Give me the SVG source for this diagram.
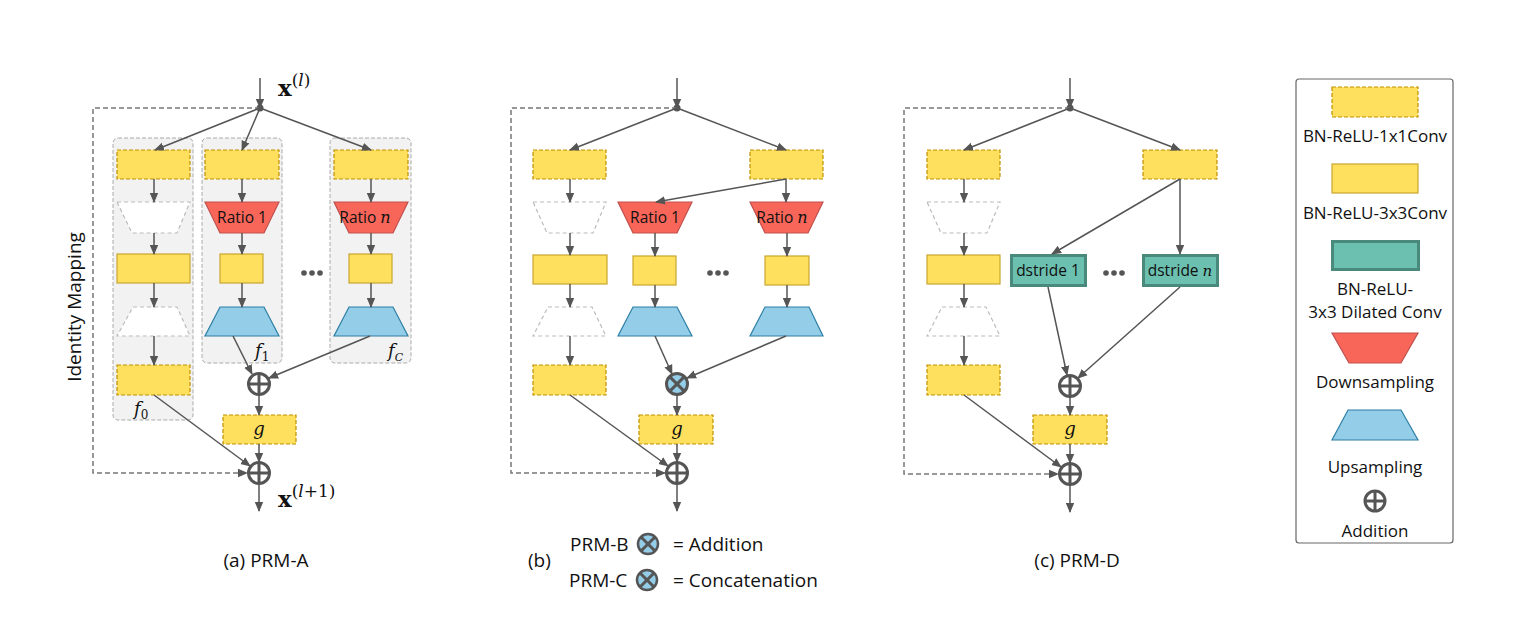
<svg xmlns="http://www.w3.org/2000/svg" width="1530" height="625" viewBox="0 0 1530 625">
  <defs>
    <marker id="arr" markerUnits="userSpaceOnUse" markerWidth="10" markerHeight="10" viewBox="0 0 10 10" refX="9" refY="5" orient="auto">
      <path d="M0,0.8 L10,5 L0,9.2 Z" fill="#555"/>
    </marker>
    <style>
      .conn { stroke:#555; stroke-width:1.5; fill:none; }
      .idm { stroke:#777; stroke-width:1.5; fill:none; stroke-dasharray:5 3; }
      .grp { fill:#F2F2F2; stroke:#AAA; stroke-width:1; stroke-dasharray:4 2; }
      .c1 { fill:#FFE05E; stroke:#BF9000; stroke-width:1.2; stroke-dasharray:4 2; }
      .c3 { fill:#FFE05E; stroke:#C9A530; stroke-width:1.2; }
      .ghost { fill:#FFF; stroke:#BBB; stroke-width:1.2; stroke-dasharray:4 3; }
      .down { fill:#F8665A; stroke:#C0504D; stroke-width:1.2; }
      .up { fill:#93CDE8; stroke:#2E7FA5; stroke-width:1.2; }
      .dil { fill:#6CC0B0; stroke:#4A8A7D; stroke-width:3; }
      .op { fill:#FFF; stroke:#555; stroke-width:3; }
      .opx { fill:#93CDE8; stroke:#555; stroke-width:3; }
      .opl { stroke:#555; stroke-width:3; }
      .txt { font-family:"Open Sans","Liberation Sans",sans-serif; fill:#111; }
      .lbl { font-family:"Open Sans","Liberation Sans",sans-serif; font-size:15.5px; fill:#111; text-anchor:middle; }
      .math { font-family:"DejaVu Serif","Liberation Serif",serif; font-style:italic; fill:#111; }
      .vec { font-family:"DejaVu Serif","Liberation Serif",serif; font-size:23px; font-weight:bold; fill:#111; }
      .sup { font-weight:normal; font-size:17px; }
      .dots { fill:#555; }
    </style>
  </defs>

  <!-- ===================== (a) PRM-A ===================== -->
  <g id="prmA">
    <g id="a-groups">
      <rect class="grp" x="113" y="138" width="80" height="282" rx="5"/>
      <rect class="grp" x="202" y="138" width="80" height="225" rx="5"/>
      <rect class="grp" x="330" y="138" width="81" height="225" rx="5"/>
    </g>
    <g id="a-f0">
      <rect class="c1" x="117" y="150" width="73" height="29"/>
      <polygon class="ghost" points="117,202 190,202 177,233 132,233"/>
      <rect class="c3" x="117" y="254" width="73" height="29"/>
      <polygon class="ghost" points="133,307 177,307 190,336 117,336"/>
      <rect class="c1" x="117" y="365" width="73" height="30"/>
      <text class="math" x="134" y="415" font-size="18">f<tspan font-size="12" dy="4" font-style="normal">0</tspan></text>
    </g>
    <g id="a-f1">
      <rect class="c1" x="205" y="150" width="74" height="29"/>
      <polygon class="down" points="205,202 279,202 264,233 220,233"/>
      <text class="lbl" x="242" y="223">Ratio 1</text>
      <rect class="c3" x="220" y="254" width="43" height="29"/>
      <polygon class="up" points="220,307 264,307 279,336 205,336"/>
      <text class="math" x="255" y="357" font-size="18">f<tspan font-size="12" dy="4" font-style="normal">1</tspan></text>
    </g>
    <g id="a-fC">
      <rect class="c1" x="334" y="150" width="74" height="29"/>
      <polygon class="down" points="334,202 408,202 393,233 349,233"/>
      <text class="lbl" x="365" y="223">Ratio <tspan class="math" font-size="16">n</tspan></text>
      <rect class="c3" x="349" y="254" width="43" height="29"/>
      <polygon class="up" points="349,307 393,307 408,336 334,336"/>
      <text class="math" x="388" y="357" font-size="18">f<tspan font-size="11" dy="4">C</tspan></text>
    </g>
    <g id="a-dots" class="dots">
      <circle cx="304" cy="273" r="2.8"/><circle cx="312" cy="273" r="2.8"/><circle cx="320" cy="273" r="2.8"/>
    </g>
    <g id="a-sum">
      <circle class="op" cx="259" cy="384" r="10.5"/>
      <line class="opl" x1="248.5" y1="384" x2="269.5" y2="384"/><line class="opl" x1="259" y1="373.5" x2="259" y2="394.5"/>
    </g>
    <g id="a-g">
      <rect class="c1" x="223" y="415" width="73" height="29"/>
      <text class="math" x="259" y="435" font-size="18" text-anchor="middle">g</text>
    </g>
    <g id="a-out">
      <circle class="op" cx="259" cy="473" r="10.5"/>
      <line class="opl" x1="248.5" y1="473" x2="269.5" y2="473"/><line class="opl" x1="259" y1="462.5" x2="259" y2="483.5"/>
    </g>
    <text class="vec" x="278" y="96">x<tspan class="sup" dy="-10">(</tspan><tspan class="sup" font-style="italic">l</tspan><tspan class="sup">)</tspan></text>
    <text class="vec" x="278" y="507">x<tspan class="sup" dy="-10">(</tspan><tspan class="sup" font-style="italic">l</tspan><tspan class="sup">+1)</tspan></text>
    <text class="txt" font-size="19" text-anchor="middle" transform="translate(81,307) rotate(-90)">Identity Mapping</text>
    <text class="txt" x="266" y="567" font-size="19" text-anchor="middle">(a) PRM-A</text>
  </g>

  <!-- ===================== (b) PRM-B / PRM-C ===================== -->
  <g id="prmB">
    <g id="b-f0">
      <rect class="c1" x="533" y="150" width="73" height="29"/>
      <polygon class="ghost" points="533,202 606,202 593,233 547,233"/>
      <rect class="c3" x="533" y="255" width="74" height="29"/>
      <polygon class="ghost" points="548,307 592,307 606,336 533,336"/>
      <rect class="c1" x="533" y="365" width="73" height="30"/>
    </g>
    <g id="b-branch">
      <rect class="c1" x="750" y="150" width="73" height="29"/>
      <polygon class="down" points="618,202 692,202 677,233 633,233"/>
      <text class="lbl" x="655" y="223">Ratio 1</text>
      <polygon class="down" points="750,202 823,202 808,233 765,233"/>
      <text class="lbl" x="782" y="223">Ratio <tspan class="math" font-size="16">n</tspan></text>
      <rect class="c3" x="633" y="256" width="43" height="29"/>
      <rect class="c3" x="765" y="256" width="44" height="29"/>
      <polygon class="up" points="633,307 677,307 692,336 618,336"/>
      <polygon class="up" points="765,307 809,307 823,336 750,336"/>
    </g>
    <g id="b-dots" class="dots">
      <circle cx="710" cy="273" r="2.8"/><circle cx="718" cy="273" r="2.8"/><circle cx="726" cy="273" r="2.8"/>
    </g>
    <g id="b-merge">
      <circle class="opx" cx="677" cy="384" r="10.5"/>
      <line class="opl" x1="669.6" y1="376.6" x2="684.4" y2="391.4"/><line class="opl" x1="669.6" y1="391.4" x2="684.4" y2="376.6"/>
    </g>
    <g id="b-g">
      <rect class="c1" x="639" y="415" width="74" height="29"/>
      <text class="math" x="677" y="435" font-size="18" text-anchor="middle">g</text>
    </g>
    <g id="b-out">
      <circle class="op" cx="677" cy="473" r="10.5"/>
      <line class="opl" x1="666.5" y1="473" x2="687.5" y2="473"/><line class="opl" x1="677" y1="462.5" x2="677" y2="483.5"/>
    </g>
    <g id="b-caption">
      <text class="txt" x="570" y="551" font-size="19">PRM-B</text>
      <circle fill="#93CDE8" stroke="#555" stroke-width="2.5" cx="648" cy="544" r="10"/>
      <line class="opl" stroke-width="2.5" x1="641" y1="537" x2="655" y2="551"/><line class="opl" stroke-width="2.5" x1="641" y1="551" x2="655" y2="537"/>
      <text class="txt" x="673" y="551" font-size="19">= Addition</text>
      <text class="txt" x="528" y="567" font-size="19">(b)</text>
      <text class="txt" x="569" y="587" font-size="19">PRM-C</text>
      <circle fill="#93CDE8" stroke="#555" stroke-width="2.5" cx="647" cy="580" r="10"/>
      <line class="opl" stroke-width="2.5" x1="640" y1="573" x2="654" y2="587"/><line class="opl" stroke-width="2.5" x1="640" y1="587" x2="654" y2="573"/>
      <text class="txt" x="673" y="587" font-size="19">= Concatenation</text>
    </g>
  </g>

  <!-- ===================== (c) PRM-D ===================== -->
  <g id="prmD">
    <g id="d-f0">
      <rect class="c1" x="927" y="150" width="73" height="29"/>
      <polygon class="ghost" points="927,202 1000,202 987,233 941,233"/>
      <rect class="c3" x="927" y="255" width="73" height="29"/>
      <polygon class="ghost" points="942,307 986,307 1000,336 927,336"/>
      <rect class="c1" x="927" y="365" width="73" height="30"/>
    </g>
    <g id="d-branch">
      <rect class="c1" x="1143" y="150" width="74" height="29"/>
      <rect class="dil" x="1011.5" y="255.5" width="74" height="30"/>
      <text class="lbl" x="1048" y="276" font-size="14">dstride 1</text>
      <rect class="dil" x="1143.5" y="255.5" width="74" height="30"/>
      <text class="lbl" x="1180" y="276" font-size="14">dstride <tspan class="math" font-size="15">n</tspan></text>
    </g>
    <g id="d-dots" class="dots">
      <circle cx="1106" cy="273" r="2.8"/><circle cx="1114" cy="273" r="2.8"/><circle cx="1122" cy="273" r="2.8"/>
    </g>
    <g id="d-sum">
      <circle class="op" cx="1070" cy="386" r="10.5"/>
      <line class="opl" x1="1059.5" y1="386" x2="1080.5" y2="386"/><line class="opl" x1="1070" y1="375.5" x2="1070" y2="396.5"/>
    </g>
    <g id="d-g">
      <rect class="c1" x="1033" y="415" width="74" height="29"/>
      <text class="math" x="1070" y="435" font-size="18" text-anchor="middle">g</text>
    </g>
    <g id="d-out">
      <circle class="op" cx="1070" cy="474" r="10.5"/>
      <line class="opl" x1="1059.5" y1="474" x2="1080.5" y2="474"/><line class="opl" x1="1070" y1="463.5" x2="1070" y2="484.5"/>
    </g>
    <text class="txt" x="1077" y="567" font-size="19" text-anchor="middle">(c) PRM-D</text>
  </g>

  <!-- ===================== connectors ===================== -->
  <g id="connectors">
    <!-- (a) -->
    <line class="conn" x1="260" y1="78" x2="260" y2="108" marker-end="url(#arr)"/>
    <circle cx="260" cy="108" r="3.5" fill="#555"/>
    <polyline class="idm" points="260,108 93,108 93,473 247,473" marker-end="url(#arr)"/>
    <line class="conn" x1="260" y1="108" x2="155" y2="150" marker-end="url(#arr)"/>
    <line class="conn" x1="260" y1="108" x2="242" y2="150" marker-end="url(#arr)"/>
    <line class="conn" x1="260" y1="108" x2="371" y2="150" marker-end="url(#arr)"/>
    <line class="conn" x1="154" y1="179" x2="154" y2="202" marker-end="url(#arr)"/>
    <line class="conn" x1="154" y1="233" x2="154" y2="254" marker-end="url(#arr)"/>
    <line class="conn" x1="154" y1="283" x2="154" y2="307" marker-end="url(#arr)"/>
    <line class="conn" x1="154" y1="336" x2="154" y2="365" marker-end="url(#arr)"/>
    <line class="conn" x1="242" y1="179" x2="242" y2="202" marker-end="url(#arr)"/>
    <line class="conn" x1="242" y1="233" x2="242" y2="254" marker-end="url(#arr)"/>
    <line class="conn" x1="242" y1="283" x2="242" y2="307" marker-end="url(#arr)"/>
    <line class="conn" x1="371" y1="179" x2="371" y2="202" marker-end="url(#arr)"/>
    <line class="conn" x1="371" y1="233" x2="371" y2="254" marker-end="url(#arr)"/>
    <line class="conn" x1="371" y1="283" x2="371" y2="307" marker-end="url(#arr)"/>
    <line class="conn" x1="233" y1="336" x2="252" y2="374" marker-end="url(#arr)"/>
    <line class="conn" x1="370" y1="336" x2="269" y2="378" marker-end="url(#arr)"/>
    <line class="conn" x1="259" y1="395" x2="259" y2="415" marker-end="url(#arr)"/>
    <line class="conn" x1="154" y1="395" x2="250" y2="466" marker-end="url(#arr)"/>
    <line class="conn" x1="259" y1="444" x2="259" y2="462" marker-end="url(#arr)"/>
    <line class="conn" x1="259" y1="484" x2="259" y2="511" marker-end="url(#arr)"/>

    <!-- (b) -->
    <line class="conn" x1="677" y1="78" x2="677" y2="108" marker-end="url(#arr)"/>
    <circle cx="677" cy="108" r="3.5" fill="#555"/>
    <polyline class="idm" points="677,108 511,108 511,473 665,473" marker-end="url(#arr)"/>
    <line class="conn" x1="677" y1="108" x2="570" y2="150" marker-end="url(#arr)"/>
    <line class="conn" x1="677" y1="108" x2="786" y2="150" marker-end="url(#arr)"/>
    <line class="conn" x1="570" y1="179" x2="570" y2="202" marker-end="url(#arr)"/>
    <line class="conn" x1="570" y1="233" x2="570" y2="255" marker-end="url(#arr)"/>
    <line class="conn" x1="570" y1="284" x2="570" y2="307" marker-end="url(#arr)"/>
    <line class="conn" x1="570" y1="336" x2="570" y2="365" marker-end="url(#arr)"/>
    <line class="conn" x1="786" y1="179" x2="786" y2="202" marker-end="url(#arr)"/>
    <line class="conn" x1="786" y1="179" x2="656" y2="202" marker-end="url(#arr)"/>
    <line class="conn" x1="655" y1="233" x2="655" y2="256" marker-end="url(#arr)"/>
    <line class="conn" x1="655" y1="285" x2="655" y2="307" marker-end="url(#arr)"/>
    <line class="conn" x1="787" y1="233" x2="787" y2="256" marker-end="url(#arr)"/>
    <line class="conn" x1="787" y1="285" x2="787" y2="307" marker-end="url(#arr)"/>
    <line class="conn" x1="655" y1="336" x2="672" y2="374" marker-end="url(#arr)"/>
    <line class="conn" x1="786" y1="336" x2="687" y2="378" marker-end="url(#arr)"/>
    <line class="conn" x1="677" y1="395" x2="677" y2="415" marker-end="url(#arr)"/>
    <line class="conn" x1="570" y1="395" x2="668" y2="466" marker-end="url(#arr)"/>
    <line class="conn" x1="677" y1="444" x2="677" y2="462" marker-end="url(#arr)"/>
    <line class="conn" x1="677" y1="484" x2="677" y2="511" marker-end="url(#arr)"/>

    <!-- (c) -->
    <line class="conn" x1="1070" y1="78" x2="1070" y2="108" marker-end="url(#arr)"/>
    <circle cx="1070" cy="108" r="3.5" fill="#555"/>
    <polyline class="idm" points="1070,108 904,108 904,474 1058,474" marker-end="url(#arr)"/>
    <line class="conn" x1="1070" y1="108" x2="964" y2="150" marker-end="url(#arr)"/>
    <line class="conn" x1="1070" y1="108" x2="1180" y2="150" marker-end="url(#arr)"/>
    <line class="conn" x1="964" y1="179" x2="964" y2="202" marker-end="url(#arr)"/>
    <line class="conn" x1="964" y1="233" x2="964" y2="255" marker-end="url(#arr)"/>
    <line class="conn" x1="964" y1="284" x2="964" y2="307" marker-end="url(#arr)"/>
    <line class="conn" x1="964" y1="336" x2="964" y2="365" marker-end="url(#arr)"/>
    <line class="conn" x1="1180" y1="179" x2="1180" y2="254" marker-end="url(#arr)"/>
    <line class="conn" x1="1180" y1="179" x2="1052" y2="254" marker-end="url(#arr)"/>
    <line class="conn" x1="1048" y1="287" x2="1067" y2="375" marker-end="url(#arr)"/>
    <line class="conn" x1="1180" y1="287" x2="1078" y2="378" marker-end="url(#arr)"/>
    <line class="conn" x1="1070" y1="397" x2="1070" y2="415" marker-end="url(#arr)"/>
    <line class="conn" x1="964" y1="395" x2="1061" y2="467" marker-end="url(#arr)"/>
    <line class="conn" x1="1070" y1="444" x2="1070" y2="463" marker-end="url(#arr)"/>
    <line class="conn" x1="1070" y1="485" x2="1070" y2="512" marker-end="url(#arr)"/>
  </g>

  <!-- ===================== legend ===================== -->
  <g id="legend">
    <rect x="1296" y="79" width="157" height="464" rx="3" fill="#FFF" stroke="#666" stroke-width="1.2"/>
    <rect class="c1" x="1332" y="87" width="86" height="30"/>
    <text class="txt" x="1375" y="142" font-size="17" text-anchor="middle">BN-ReLU-1x1Conv</text>
    <rect class="c3" x="1332" y="164" width="86" height="29"/>
    <text class="txt" x="1375" y="219" font-size="17" text-anchor="middle">BN-ReLU-3x3Conv</text>
    <rect class="dil" x="1332.5" y="241.5" width="86" height="28"/>
    <text class="txt" x="1375" y="295" font-size="17" text-anchor="middle">BN-ReLU-</text>
    <text class="txt" x="1375" y="318" font-size="17" text-anchor="middle">3x3 Dilated Conv</text>
    <polygon class="down" points="1332,333 1418,333 1401,363 1349,363"/>
    <text class="txt" x="1375" y="388" font-size="17" text-anchor="middle">Downsampling</text>
    <polygon class="up" points="1348,410 1401,410 1418,440 1332,440"/>
    <text class="txt" x="1375" y="473" font-size="17" text-anchor="middle">Upsampling</text>
    <circle class="op" cx="1375" cy="501" r="10"/>
    <line class="opl" x1="1365" y1="501" x2="1385" y2="501"/><line class="opl" x1="1375" y1="491" x2="1375" y2="511"/>
    <text class="txt" x="1375" y="537" font-size="17" text-anchor="middle">Addition</text>
  </g>
</svg>
